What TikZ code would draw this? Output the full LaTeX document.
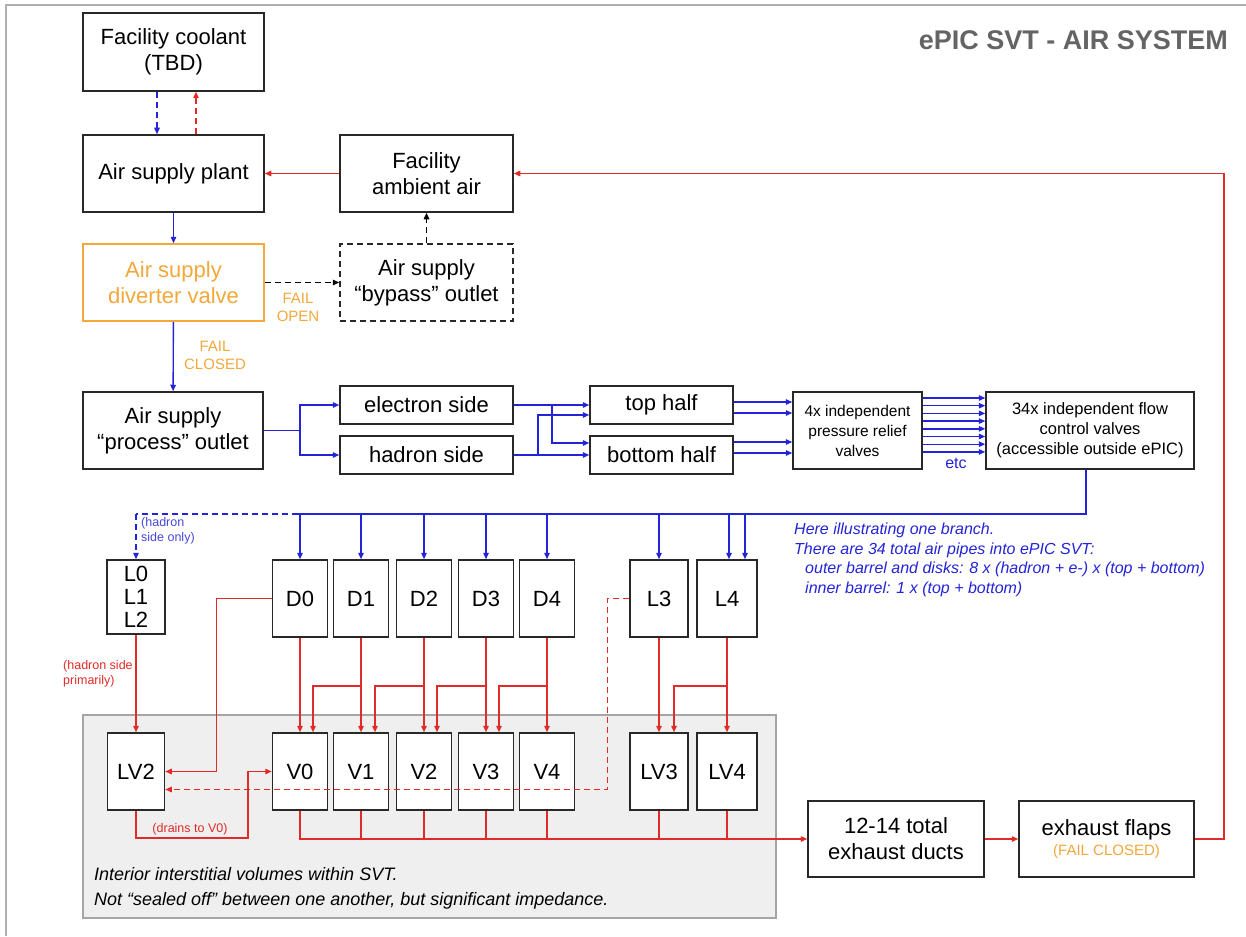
\documentclass[tikz,border=0pt]{standalone}
\usepackage{fontspec}
\setmainfont{Liberation Sans}
\usetikzlibrary{arrows.meta,calc}
\definecolor{bl}{RGB}{35,35,215}
\definecolor{notebl}{RGB}{70,70,220}
\definecolor{rd}{RGB}{226,42,38}
\definecolor{org}{RGB}{242,168,58}
\definecolor{titlegray}{RGB}{100,100,100}
\definecolor{regionfill}{RGB}{239,239,239}
\definecolor{regionline}{RGB}{165,165,165}
\definecolor{framegray}{RGB}{175,175,175}
\definecolor{boxline}{RGB}{40,40,40}
\begin{document}
\begin{tikzpicture}[x=1pt,y=-1pt,
  every node/.style={font=\fontsize{22}{26}\selectfont},
  box/.style={draw=boxline, line width=1.5pt, inner sep=0pt, align=center, fill=white},
  sz/.style 2 args={minimum width=#1pt, minimum height=#2pt},
  tip/.style={-{Triangle[length=6.5pt,width=5.5pt]}},
  bll/.style={draw=bl, line width=1.4pt},
  rdl/.style={draw=rd, line width=1.4pt},
  bla/.style={bll, tip},
  rda/.style={rdl, tip},
  blka/.style={draw=black, line width=1.4pt, tip},
  dsh/.style={dash pattern=on 6pt off 4pt},
  region/.style={fill=regionfill, draw=regionline, line width=1.2pt, inner sep=0pt},
  small/.style={font=\fontsize{12.5}{15}\selectfont, inner sep=0pt, align=left}
]
\useasboundingbox (0,0) rectangle (1246,936);
% slide frame
\draw[framegray, line width=1.2pt] (1246,5) -- (6,5) -- (6,936);

% title
\node[anchor=east, inner sep=0pt, font=\bfseries\fontsize{27}{30}\selectfont, text=titlegray] (title) at (1228,40) {ePIC SVT - AIR SYSTEM};

% SVT region
\node[region, sz={693}{203}] (svt) at (429.5,816.5) {};
\node[anchor=west, font=\itshape\fontsize{18}{25}\selectfont, align=left, inner sep=0pt] (svtnote) at (94,888) {Interior interstitial volumes within SVT.\\Not “sealed off” between one another, but significant impedance.};

% top part
\node[box, sz={181}{78}] (coolant) at (173.5,52) {Facility coolant\\(TBD)};
\node[box, sz={181}{77}] (plant) at (173.5,173.5) {Air supply plant};
\node[box, sz={173}{77}] (ambient) at (426.5,173.5) {Facility\\ambient air};
\node[box, draw=org, text=org, sz={181}{77}] (diverter) at (173.5,282.5) {Air supply\\diverter valve};
\node[box, dsh, sz={173}{77}] (bypass) at (426.5,282.5) {Air supply\\“bypass” outlet};
\node[font=\fontsize{15}{18}\selectfont, text=org, align=center] (failopen) at (298,307) {FAIL\\OPEN};
\node[font=\fontsize{15}{18}\selectfont, text=org, align=center] (failclosed) at (215,355) {FAIL\\CLOSED};

% middle row
\node[box, sz={180}{77}] (process) at (173,430.5) {Air supply\\“process” outlet};
\node[box, sz={173}{38}] (electron) at (426.5,405) {electron side};
\node[box, sz={173}{38}] (hadron) at (426.5,455) {hadron side};
\node[box, sz={143}{38}] (top) at (661.5,405) {top half};
\node[box, sz={143}{38}] (bottom) at (661.5,455) {bottom half};
\node[box, sz={129}{77}, font=\fontsize{15.5}{20}\selectfont] (relief) at (857.5,430.5) {4x independent\\pressure relief\\valves};
\node[box, sz={208}{77}, font=\fontsize{16.5}{20}\selectfont] (flow) at (1090,430.5) {34x independent flow\\control valves\\(accessible outside ePIC)};
\node[text=bl, font=\fontsize{16}{18}\selectfont] (etc) at (956,463) {etc};

% detector layers / disks
\node[box, sz={58}{74}, font=\fontsize{22}{23}\selectfont] (L012) at (136,597) {L0\\L1\\L2};
\node[box, sz={55}{77}] (D0) at (300,598.5) {D0};
\node[box, sz={55}{77}] (D1) at (361,598.5) {D1};
\node[box, sz={55}{77}] (D2) at (424,598.5) {D2};
\node[box, sz={55}{77}] (D3) at (486,598.5) {D3};
\node[box, sz={55}{77}] (D4) at (547,598.5) {D4};
\node[box, sz={58}{77}] (L3) at (659,598.5) {L3};
\node[box, sz={60}{77}] (L4) at (727,598.5) {L4};

% interior volumes
\node[box, sz={57}{77}] (LV2) at (136,771.5) {LV2};
\node[box, sz={55}{77}] (V0) at (300,771.5) {V0};
\node[box, sz={55}{77}] (V1) at (361,771.5) {V1};
\node[box, sz={55}{77}] (V2) at (424,771.5) {V2};
\node[box, sz={55}{77}] (V3) at (486,771.5) {V3};
\node[box, sz={55}{77}] (V4) at (547,771.5) {V4};
\node[box, sz={58}{77}] (LV3) at (659,771.5) {LV3};
\node[box, sz={60}{77}] (LV4) at (727,771.5) {LV4};

% exhaust
\node[box, sz={176}{76}] (ducts) at (896,839) {12-14 total\\exhaust ducts};
\node[box, sz={175}{76}] (flaps) at (1106.5,839) {exhaust flaps\\[-6pt]{\color{org}\fontsize{15}{16}\selectfont (FAIL CLOSED)}};

% notes
\node[anchor=north west, inner sep=0pt, font=\itshape\fontsize{16}{19.5}\selectfont, text=bl, align=left] (note) at (794,523) {Here illustrating one branch.\\There are 34 total air pipes into ePIC SVT:\\\hspace*{11pt}outer barrel and disks: 8 x (hadron + e-) x (top + bottom)\\\hspace*{11pt}inner barrel: 1 x (top + bottom)};
\node[small, anchor=north west, text=notebl] (hsonly) at (141,517) {(hadron\\side only)};
\node[small, anchor=north west, text=rd] (hsprim) at (63,660) {(hadron side\\primarily)};
\node[small, text=rd] (drains) at (190,829) {(drains to V0)};

% ---- connectors: top part
\draw[bla, dsh] ($(coolant.south)+(-16.5,0)$) -- ($(plant.north)+(-16.5,0)$);
\draw[rda, dsh] ($(plant.north)+(22.5,0)$) -- ($(coolant.south)+(22.5,0)$);
\draw[rda] (ambient) -- (plant);
\draw[bla] (plant) -- (diverter);
\draw[blka, dsh] (diverter) -- (bypass);
\draw[blka, dsh] (bypass) -- (ambient);
\draw[bla] (diverter) -- (process);

% process split
\coordinate (pj) at (300,430.5);
\draw[bll] (process.east) -- (pj);
\draw[bla] (pj) |- (electron.west);
\draw[bla] (pj) |- (hadron.west);
\draw[bla] (electron.east) -- (top.west);
\coordinate (ej) at (552,405);
\draw[bla] (ej) |- ($(bottom.west)+(0,-12)$);
\draw[bla] (hadron.east) -- (bottom.west);
\coordinate (hj) at (538,455);
\draw[bla] (hj) |- ($(top.west)+(0,10)$);

% halves to relief valves
\foreach \o in {-3,8}{
  \draw[bla] ($(top.east)+(0,\o)$) -- ($(relief.west|-top.east)+(0,\o)$);
}
\foreach \o in {-13,-2}{
  \draw[bla] ($(bottom.east)+(0,\o)$) -- ($(relief.west|-bottom.east)+(0,\o)$);
}
% relief to flow control
\foreach \i in {0,...,7}{
  \pgfmathsetmacro\o{-32.5+7.7*\i}
  \draw[bla] ($(relief.east)+(0,\o)$) -- ($(flow.west|-relief.east)+(0,\o)$);
}

% blue distribution bus
\coordinate (busS) at (298,514);
\coordinate (busL) at (136,514);
\draw[bll] ($(flow.south)+(-4,0)$) |- (busS);
\draw[bll, dsh] (busS) -- (busL);
\draw[bla, dsh] (busL) -- (L012.north);
\foreach \n in {D0,D1,D2,D3,D4,L3}{
  \draw[bla] (\n.north |- busS) -- (\n.north);
}
\draw[bla] ($(L4.north |- busS)+(2,0)$) -- ($(L4.north)+(2,0)$);
\draw[bla] ($(L4.north |- busS)+(18,0)$) -- ($(L4.north)+(18,0)$);

% red: disks/layers to volumes
\foreach \n/\v in {D0/V0,D1/V1,D2/V2,D3/V3,D4/V4,L3/LV3,L4/LV4}{
  \draw[rda] (\n) -- (\v);
}
\coordinate (by) at (0,686);
\draw[rda] (D1.south |- by) -| ($(V0.north)+(13,0)$);
\draw[rda] (D2.south |- by) -| ($(V1.north)+(14,0)$);
\draw[rda] (D3.south |- by) -| ($(V2.north)+(13,0)$);
\draw[rda] (D4.south |- by) -| ($(V3.north)+(13,0)$);
\draw[rda] (L4.south |- by) -| ($(LV3.north)+(15,0)$);
\draw[rda] (L012) -- (LV2);
\draw[rda] (D0.west) -- ++(-55,0) |- (LV2.east);
\draw[rda, dsh] (L3.west) -- ++(-22,0) |- ($(LV2.east)+(0,18)$);
\coordinate (dr) at (248,838);
\draw[rda] (LV2.south) |- (dr) |- (V0.west);

% exhaust bus
\draw[rda] (V0.south) |- (ducts.west);
\foreach \v in {V1,V2,V3,V4,LV3,LV4}{
  \draw[rdl] (\v.south) -- (\v.south |- ducts.west);
}
\draw[rda] (ducts) -- (flaps);
\coordinate (rc) at (1224,500);
\draw[rda] (flaps.east) -| (rc) |- (ambient.east);
\end{tikzpicture}
\end{document}
